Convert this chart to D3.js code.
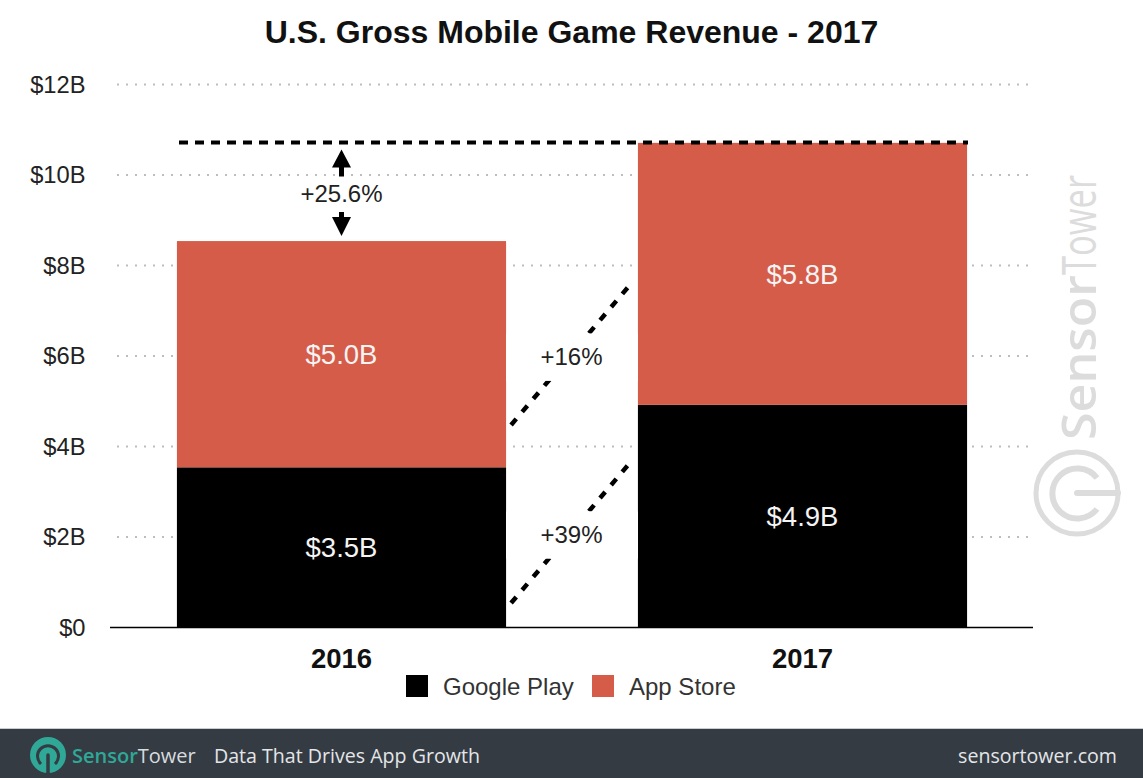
<!DOCTYPE html>
<html><head><meta charset="utf-8">
<script src="https://cdn.jsdelivr.net/npm/d3@7"></script>
<style>
html,body{margin:0;padding:0;background:#fff;overflow:hidden}
svg{display:block}
text{font-family:"Liberation Sans",Arial,sans-serif}
</style></head><body>
<svg id="c" width="1143" height="778"></svg>
<script>
const years = ["2016","2017"];
const googlePlay = [3.54,4.92];
const appStore = [5.0,5.79];
const googleLabels = ["$3.5B","$4.9B"];
const appLabels = ["$5.0B","$5.8B"];
const yTicks = [0,2,4,6,8,10,12];
const seriesNames = ["Google Play","App Store"];
const seriesColors = ["#000000","#d65c4a"];
const totalLevel = 10.72;
const growthLabel = "+25.6%";
const connectorValues = [[0.54,3.64],[4.475,7.57]];
const connectorLabels = ["+39%","+16%"];
const connectorLabelValues = [2.05,5.98];

const svg = d3.select("#c");
const x = d3.scaleBand().domain(years).range([111,1033]).paddingInner(0.286).paddingOuter(0.143);
const y = d3.scaleLinear().domain([0,12]).range([627.5,84.5]);

// gridlines
svg.append("g").selectAll("line").data(yTicks.filter(d=>d>0)).join("line")
  .attr("x1",117).attr("x2",1029).attr("y1",d=>y(d)).attr("y2",d=>y(d))
  .attr("stroke","#bdbdbd").attr("stroke-width",2).attr("stroke-dasharray","2 7");

// y labels
svg.append("g").selectAll("text").data(yTicks).join("text")
  .attr("x",85.5).attr("y",d=>y(d)+8).attr("text-anchor","end")
  .attr("font-size",23.7).attr("fill","#222").text(d=>d===0?"$0":"$"+d+"B");

// watermark
const wm = svg.append("g").attr("fill","#dcdcdc");
wm.append("text").attr("transform","translate(1096,440) rotate(-90)")
  .attr("font-size",47).attr("font-weight",600).attr("textLength",165).attr("lengthAdjust","spacingAndGlyphs")
  .style("font-family","'Open Sans',sans-serif").text("Sensor");
wm.append("text").attr("transform","translate(1096,275) rotate(-90)")
  .attr("font-size",47).attr("textLength",100).attr("lengthAdjust","spacingAndGlyphs")
  .style("font-family","'Open Sans',sans-serif").text("Tower");
wm.append("circle").attr("cx",1077).attr("cy",493).attr("r",41).attr("fill","none").attr("stroke","#dcdcdc").attr("stroke-width",5);
wm.append("path").attr("d","M1097 478 A25 25 0 1 0 1097 509").attr("fill","none").attr("stroke","#dcdcdc").attr("stroke-width",6);
wm.append("path").attr("d","M1077 493 H1118").attr("stroke","#dcdcdc").attr("stroke-width",6).attr("stroke-linecap","round");

// bars
const bars = svg.append("g");
bars.selectAll(".gp").data(years).join("rect").attr("class","gp")
  .attr("x",d=>x(d)).attr("width",x.bandwidth())
  .attr("y",(d,i)=>y(googlePlay[i])).attr("height",(d,i)=>y(0)-y(googlePlay[i]))
  .attr("fill",seriesColors[0]);
bars.selectAll(".as").data(years).join("rect").attr("class","as")
  .attr("x",d=>x(d)).attr("width",x.bandwidth())
  .attr("y",(d,i)=>y(googlePlay[i]+appStore[i])).attr("height",(d,i)=>y(googlePlay[i])-y(googlePlay[i]+appStore[i]))
  .attr("fill",seriesColors[1]);

// value labels
const cx = d=>x(d)+x.bandwidth()/2;
svg.append("g").selectAll("text").data(years).join("text")
  .attr("x",cx).attr("y",(d,i)=>y(googlePlay[i]/2)+10)
  .attr("text-anchor","middle").attr("font-size",27.5).attr("fill","#f4f4f4").text((d,i)=>googleLabels[i]);
svg.append("g").selectAll("text").data(years).join("text")
  .attr("x",cx).attr("y",(d,i)=>y(googlePlay[i]+appStore[i]/2)+10)
  .attr("text-anchor","middle").attr("font-size",27.5).attr("fill","#f4f4f4").text((d,i)=>appLabels[i]);

// baseline
svg.append("line").attr("x1",110).attr("x2",1033).attr("y1",y(0)).attr("y2",y(0)).attr("stroke","#000").attr("stroke-width",1.5);

// x labels
svg.append("g").selectAll("text").data(years).join("text")
  .attr("x",cx).attr("y",668).attr("text-anchor","middle")
  .attr("font-size",27.5).attr("font-weight","bold").attr("fill","#111").text(d=>d);

// total dashed line
const tx = cx(years[0]);
svg.append("line").attr("x1",179).attr("x2",968).attr("y1",y(totalLevel)).attr("y2",y(totalLevel))
  .attr("stroke","#000").attr("stroke-width",4).attr("stroke-dasharray","9 7");

// growth arrows
const topStack = googlePlay[0]+appStore[0];
const arrows = svg.append("g").attr("fill","#000").attr("stroke","none");
const upTip = y(totalLevel)+7, downTip = y(topStack)-5;
arrows.append("path").attr("d",`M${tx} ${upTip} l-9.5 18 h7 v9 h5 v-9 h7 z`);
arrows.append("path").attr("d",`M${tx} ${downTip} l-9.5 -19 h7 v-5 h5 v5 h7 z`);
svg.append("text").attr("x",tx).attr("y",202).attr("text-anchor","middle")
  .attr("font-size",24).attr("fill","#222").text(growthLabel);

// connectors
const x0 = x(years[0])+x.bandwidth()+5, x1 = x(years[1])-8;
svg.append("g").selectAll("line").data(connectorValues).join("line")
  .attr("x1",x0).attr("x2",x1).attr("y1",d=>y(d[0])).attr("y2",d=>y(d[1]))
  .attr("stroke","#000").attr("stroke-width",4.5).attr("stroke-dasharray","8 9.2");
svg.append("g").selectAll("rect").data(connectorLabelValues).join("rect")
  .attr("x",x(years[0])+x.bandwidth()).attr("width",x(years[1])-x(years[0])-x.bandwidth())
  .attr("y",d=>y(d)-23.5).attr("height",47.5).attr("fill","#fff");
svg.append("g").selectAll("text").data(connectorLabels).join("text")
  .attr("x",571.5).attr("y",(d,i)=>y(connectorLabelValues[i])+8).attr("text-anchor","middle")
  .attr("font-size",24).attr("fill","#222").text(d=>d);

// title
svg.append("text").attr("x",571.5).attr("y",43).attr("text-anchor","middle")
  .attr("font-size",32).attr("font-weight","bold").attr("fill","#111").text("U.S. Gross Mobile Game Revenue - 2017");

// legend
const lx=[406,592], ltx=[443,629];
svg.append("g").selectAll("rect").data(seriesNames).join("rect")
  .attr("x",(d,i)=>lx[i]).attr("y",675).attr("width",22).attr("height",22)
  .attr("fill",(d,i)=>seriesColors[i]);
svg.append("g").selectAll("text").data(seriesNames).join("text")
  .attr("x",(d,i)=>ltx[i]).attr("y",695).attr("font-size",24).attr("fill","#333").text(d=>d);

// footer
svg.append("rect").attr("x",0).attr("y",729).attr("width",1143).attr("height",49).attr("fill","#343b43");
svg.append("rect").attr("x",0).attr("y",728).attr("width",1143).attr("height",1).attr("fill","#c8cdd0");
const f = svg.append("g");
f.append("circle").attr("cx",48).attr("cy",755).attr("r",18).attr("fill","#2fa898");
f.append("path").attr("d","M41 764 A10.5 10.5 0 1 1 55 764").attr("fill","none").attr("stroke","#343b43").attr("stroke-width",3);
f.append("path").attr("d","M48 755 V773").attr("stroke","#343b43").attr("stroke-width",3.5).attr("stroke-linecap","round");
const ft = f.append("text").attr("x",72).attr("y",763).attr("font-size",20).style("font-family","'Open Sans',sans-serif");
ft.append("tspan").attr("fill","#2fa898").attr("font-weight",600).text("Sensor");
ft.append("tspan").attr("fill","#d8dcdf").text("Tower");
f.append("text").attr("x",214).attr("y",763).attr("font-size",19.6).attr("fill","#e4e6e8").style("font-family","'Open Sans',sans-serif").text("Data That Drives App Growth");
f.append("text").attr("x",1117).attr("y",763).attr("text-anchor","end").attr("font-size",19.6).attr("fill","#e4e6e8").style("font-family","'Open Sans',sans-serif").text("sensortower.com");
</script>
</body></html>
